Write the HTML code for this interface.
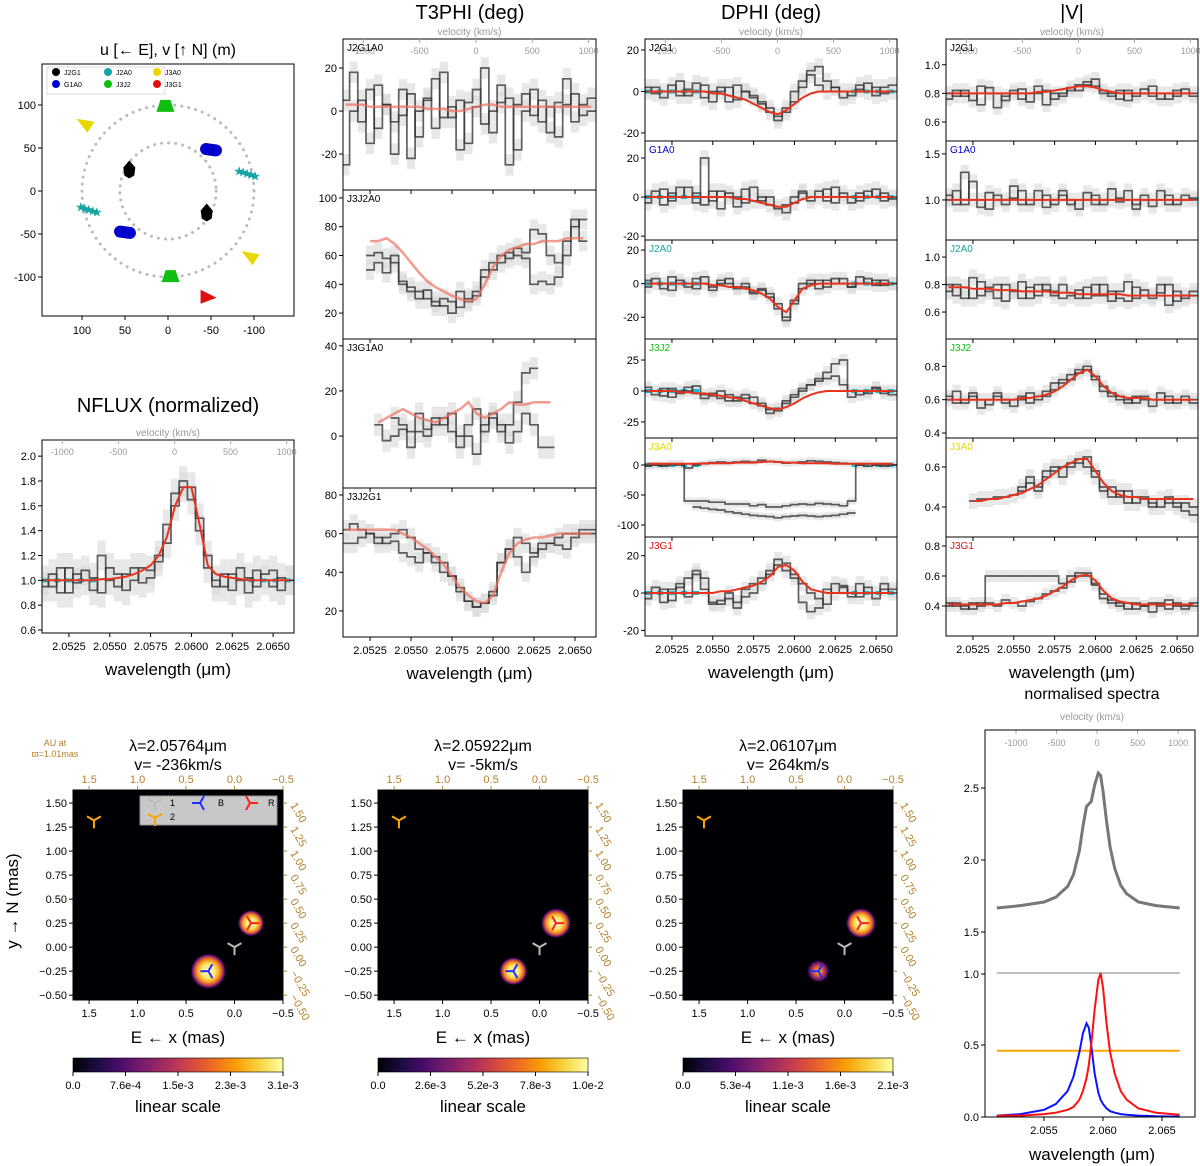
<!DOCTYPE html>
<html><head><meta charset="utf-8">
<style>
html,body{margin:0;padding:0;background:#fff;}
svg{display:block;font-family:"Liberation Sans","DejaVu Sans",sans-serif;}
</style></head>
<body>
<svg id="fig" width="1200" height="1166" viewBox="0 0 1200 1166" xmlns="http://www.w3.org/2000/svg">
<defs>
<radialGradient id="blob">
<stop offset="0" stop-color="#fffde0"/><stop offset="0.4" stop-color="#fce36a"/><stop offset="0.6" stop-color="#f8a020"/><stop offset="0.75" stop-color="#d2503a"/><stop offset="0.88" stop-color="#5a107a"/><stop offset="1" stop-color="#000004" stop-opacity="0"/>
</radialGradient>
<radialGradient id="blobDim">
<stop offset="0" stop-color="#f6c040"/><stop offset="0.35" stop-color="#e86a2a"/><stop offset="0.6" stop-color="#a42c60"/><stop offset="0.85" stop-color="#3a0c5a"/><stop offset="1" stop-color="#000004" stop-opacity="0"/>
</radialGradient>
<linearGradient id="inferno" x1="0" x2="1" y1="0" y2="0">
<stop offset="0" stop-color="#000004"/><stop offset="0.11" stop-color="#1b0c41"/><stop offset="0.22" stop-color="#4a0c6b"/><stop offset="0.33" stop-color="#781c6d"/><stop offset="0.44" stop-color="#a52c60"/><stop offset="0.55" stop-color="#cf4446"/><stop offset="0.66" stop-color="#ed6925"/><stop offset="0.77" stop-color="#fb9b06"/><stop offset="0.88" stop-color="#f7d13d"/><stop offset="1" stop-color="#fcffa4"/>
</linearGradient>
</defs>
</svg>
<script>
// ---------------- data ----------------
const wl=[2.0510,2.0515,2.0520,2.0525,2.0530,2.0535,2.0540,2.0545,2.0550,2.0555,2.0560,2.0565,2.0570,2.0575,2.0580,2.0585,2.0590,2.0595,2.0600,2.0605,2.0610,2.0615,2.0620,2.0625,2.0630,2.0635,2.0640,2.0645,2.0650,2.0655,2.0660];
const N=null;
// NFLUX
const fluxA=[1.0,0.95,1.1,0.9,1.05,1.0,0.92,1.2,1.0,0.95,1.05,1.1,0.98,1.02,1.15,1.3,1.6,1.8,1.75,1.5,1.1,1.0,0.95,1.05,1.0,0.9,1.08,1.0,0.95,1.02,1.0];
const fluxB=[0.95,1.05,0.9,1.1,0.98,1.08,1.02,0.9,1.1,1.05,0.92,1.0,1.1,1.08,1.2,1.45,1.7,1.75,1.65,1.4,1.2,0.95,1.05,0.92,1.1,1.02,0.95,1.05,1.08,0.92,1.0];
const fluxM=[1,1,1,1,1,1,1,1.01,1.01,1.02,1.03,1.05,1.08,1.12,1.2,1.35,1.6,1.75,1.75,1.45,1.12,1.05,1.03,1.02,1.01,1,1,1,1,1,1];
// T3PHI
const t1a=[5,18,-5,10,-8,3,-20,-2,8,-12,5,15,-3,2,-18,4,10,-6,0,12,-25,3,8,-2,5,-10,4,15,-5,3,6];
const t1b=[-25,0,5,-15,12,3,-5,10,-22,0,6,-8,18,-3,5,-15,2,20,-10,4,6,-18,0,10,-5,2,-12,3,8,-2,0];
const t1m=[3,3,3,2,2,2,2,2,2,2,1,1,1,0,0,1,2,3,3,2,2,2,2,2,2,2,2,2,2,2,2];
const t2a=[N,N,N,50,55,48,60,40,38,35,30,28,25,20,35,28,32,45,50,55,62,60,58,40,42,40,45,70,80,85,N];
const t2b=[N,N,N,60,62,58,55,42,35,30,36,25,30,28,24,30,35,50,55,60,58,65,62,78,75,60,55,60,85,70,N];
const t2m=[N,N,N,70,70,72,68,62,55,48,42,38,35,32,30,28,30,40,52,60,64,66,68,68,70,70,70,72,72,72,N];
const t3a=[N,N,N,N,5,-2,0,3,-5,2,0,5,8,2,-5,0,-8,5,10,2,5,15,28,30,N,N,N,N,N,N,N];
const t3b=[N,N,N,N,N,N,8,5,2,10,3,8,5,10,0,5,12,2,8,5,-3,2,10,5,-5,-5,N,N,N,N,N];
const t3m=[N,N,N,N,6,8,10,12,10,8,7,6,8,10,12,15,10,8,10,12,15,14,14,15,15,15,N,N,N,N,N];
const t4a=[55,55,58,60,58,55,56,50,48,45,50,45,40,38,32,25,22,24,30,45,52,58,55,50,52,55,54,52,58,60,60];
const t4b=[62,65,62,60,55,58,60,62,58,52,50,48,45,38,30,25,22,24,28,45,52,48,40,48,55,55,58,60,60,62,62];
const t4m=[62,62,62,62,62,62,62,60,58,55,52,48,44,38,32,28,25,24,28,40,50,55,57,58,58,59,60,60,60,60,60];
// DPHI
const d1a=[0,2,-3,0,5,-2,0,3,-5,0,2,-4,0,-3,-6,-10,-12,-8,0,5,10,12,5,2,0,-2,3,0,2,-1,0];
const d1b=[2,-1,0,3,-2,1,4,-3,0,2,-5,3,0,-2,-5,-8,-14,-10,-5,2,8,3,0,2,-3,0,1,4,-2,2,3];
const d1m=[0,0,0,0,0,0,0,0,-1,-1,-2,-3,-4,-6,-8,-10,-11,-9,-6,-3,-1,0,0,0,0,0,0,0,0,0,0];
const d2a=[0,3,-4,2,0,5,-3,20,-2,3,0,-5,4,-2,0,-4,-6,-8,-3,2,0,3,-2,5,0,-3,2,0,4,-2,0];
const d2b=[-3,0,4,-2,5,0,2,-4,3,-6,2,0,-3,5,-2,0,-5,-4,0,3,-2,0,4,-3,2,0,-2,3,0,2,-1];
const d2m=[0,0,0,0,0,0,0,0,0,0,0,-1,-1,-2,-3,-4,-5,-5,-3,-1,0,0,0,0,0,0,0,0,0,0,0];
const d3a=[2,0,-3,4,0,-2,3,0,-4,2,0,-3,-2,-5,-4,-8,-12,-20,-10,-3,0,2,-2,3,0,-2,4,0,2,-1,0];
const d3b=[-2,3,0,-4,2,0,-3,4,-2,0,3,-2,0,-6,-3,-6,-15,-22,-12,0,2,-3,2,0,3,-2,0,3,-1,2,0];
const d3m=[0,0,0,0,0,0,0,0,-1,-1,-2,-2,-3,-4,-6,-9,-14,-17,-10,-3,-1,0,0,0,0,0,0,0,0,0,0];
const d4a=[0,-3,2,-5,0,3,-2,-6,-4,0,-8,-5,-3,-10,-12,-15,-14,-10,-5,0,5,10,15,22,25,-5,0,-2,3,0,-3];
const d4b=[3,0,-4,2,-2,0,4,-3,-2,-6,-3,-8,-6,-5,-10,-18,-16,-8,-3,2,5,8,10,12,5,0,-3,0,2,-2,0];
const d4m=[0,0,0,0,-1,-1,-2,-2,-3,-4,-5,-6,-8,-10,-12,-14,-15,-13,-10,-6,-3,-1,0,0,0,0,0,0,0,0,0];
const d5a=[0,0,-2,0,2,-60,-60,-60,-62,-62,-65,-65,-65,-68,-66,-70,-70,-68,-66,-65,-66,-64,-65,-66,-68,-60,0,2,0,-2,0];
const d5b=[-2,0,0,2,0,-5,0,2,4,5,4,5,6,5,8,6,5,3,4,5,7,6,5,4,3,2,0,-2,0,0,0];
const d5c=[N,N,N,N,N,N,-70,-72,-74,-75,-78,-80,-82,-84,-85,-86,-88,-86,-85,-84,-85,-86,-85,-84,-82,-80,N,N,N,N,N];
const d5m=[2,2,2,2,2,2,2,3,3,3,3,4,4,4,5,6,5,4,4,3,3,3,3,2,2,2,2,2,2,2,2];
const d6a=[0,3,-5,2,5,-2,10,8,-5,-6,-3,-8,-2,0,5,10,15,12,8,-5,-10,-8,2,0,3,-2,5,0,-3,2,0];
const d6b=[-3,0,2,-4,3,8,12,2,-6,-4,0,-5,2,5,8,12,18,16,10,5,0,-3,-6,5,4,0,-2,3,0,5,2];
const d6m=[0,0,0,0,0,0,0,0,0,1,1,2,3,4,6,9,14,15,12,6,2,1,0,0,0,0,0,0,0,0,0];
// |V|
const v1a=[0.8,0.78,0.82,0.75,0.85,0.8,0.7,0.78,0.82,0.76,0.8,0.85,0.72,0.8,0.78,0.82,0.86,0.88,0.85,0.8,0.78,0.82,0.75,0.8,0.83,0.78,0.8,0.76,0.82,0.8,0.78];
const v1b=[0.76,0.82,0.78,0.8,0.72,0.84,0.8,0.75,0.8,0.83,0.74,0.8,0.82,0.76,0.8,0.84,0.82,0.86,0.9,0.82,0.8,0.76,0.82,0.78,0.8,0.85,0.76,0.8,0.78,0.83,0.8];
const v1m=[0.8,0.8,0.8,0.8,0.8,0.8,0.8,0.8,0.8,0.8,0.8,0.81,0.81,0.82,0.83,0.84,0.85,0.85,0.84,0.82,0.81,0.8,0.8,0.8,0.8,0.8,0.8,0.8,0.8,0.8,0.8];
const v2a=[1.0,1.1,0.95,1.2,1.0,0.9,1.05,1.0,1.15,0.95,1.0,1.1,0.92,1.0,1.05,0.95,1.0,1.08,0.95,1.0,1.12,0.98,1.0,0.9,1.05,1.0,1.1,0.95,1.0,1.05,1.0];
const v2b=[1.05,0.95,1.3,1.0,0.92,1.08,1.0,0.95,1.02,1.1,0.95,1.0,1.05,0.95,1.1,1.0,0.9,1.0,1.05,0.95,1.0,1.02,1.1,0.95,1.0,0.93,1.0,1.05,0.95,1.0,1.02];
const v2m=[1,1,1,1,1,1,1,1,1,1,1,1,1,1,1,1,1,1,1,1,1,1,1,1,1,1,1,1,1,1,1];
const v3a=[0.75,0.8,0.7,0.85,0.72,0.78,0.8,0.68,0.75,0.82,0.7,0.8,0.76,0.72,0.8,0.74,0.7,0.78,0.72,0.8,0.68,0.75,0.82,0.7,0.76,0.72,0.8,0.65,0.75,0.7,0.72];
const v3b=[0.8,0.72,0.78,0.7,0.82,0.75,0.7,0.8,0.76,0.7,0.78,0.72,0.8,0.75,0.7,0.72,0.76,0.7,0.8,0.72,0.75,0.7,0.68,0.78,0.72,0.7,0.74,0.8,0.68,0.72,0.75];
const v3m=[0.78,0.78,0.78,0.77,0.77,0.77,0.76,0.76,0.76,0.75,0.75,0.75,0.75,0.74,0.74,0.74,0.73,0.73,0.73,0.73,0.73,0.73,0.72,0.72,0.72,0.72,0.72,0.72,0.72,0.72,0.72];
const v4a=[0.6,0.65,0.58,0.62,0.55,0.6,0.64,0.58,0.6,0.62,0.58,0.62,0.65,0.7,0.72,0.75,0.78,0.8,0.72,0.65,0.62,0.6,0.58,0.62,0.6,0.56,0.6,0.62,0.58,0.6,0.6];
const v4b=[0.62,0.58,0.6,0.64,0.6,0.57,0.62,0.6,0.56,0.6,0.64,0.6,0.62,0.66,0.7,0.72,0.76,0.78,0.74,0.68,0.64,0.62,0.6,0.58,0.62,0.6,0.64,0.58,0.6,0.62,0.58];
const v4m=[0.6,0.6,0.6,0.6,0.6,0.6,0.6,0.6,0.6,0.61,0.61,0.62,0.63,0.65,0.68,0.72,0.76,0.78,0.74,0.68,0.64,0.62,0.61,0.61,0.61,0.6,0.6,0.6,0.6,0.6,0.6];
const v5a=[N,N,N,0.43,0.44,0.44,0.45,0.45,0.46,0.5,0.55,0.5,0.58,0.6,0.55,0.6,0.62,0.65,0.58,0.5,0.45,0.48,0.42,0.45,0.44,0.42,0.4,0.45,0.42,0.38,0.36];
const v5b=[N,N,N,N,N,N,N,N,N,0.48,0.52,0.48,0.55,0.58,0.6,0.62,0.64,0.6,0.55,0.48,0.5,0.45,0.48,0.42,0.45,0.4,0.44,0.42,0.4,0.42,0.4];
const v5m=[N,N,N,0.43,0.43,0.44,0.44,0.45,0.46,0.47,0.49,0.51,0.54,0.57,0.6,0.62,0.64,0.64,0.58,0.52,0.48,0.46,0.45,0.45,0.44,0.44,0.44,0.44,0.44,0.44,0.44];
const v6a=[0.4,0.42,0.4,0.38,0.42,0.6,0.6,0.6,0.6,0.6,0.6,0.6,0.6,0.6,0.55,0.6,0.62,0.62,0.55,0.45,0.42,0.4,0.42,0.38,0.4,0.42,0.4,0.38,0.42,0.4,0.4];
const v6b=[0.42,0.4,0.38,0.42,0.4,0.42,0.4,0.44,0.42,0.4,0.43,0.45,0.48,0.5,0.52,0.56,0.6,0.6,0.54,0.48,0.44,0.42,0.38,0.42,0.4,0.36,0.42,0.44,0.4,0.38,0.42];
const v6m=[0.41,0.41,0.41,0.41,0.41,0.41,0.41,0.42,0.42,0.43,0.44,0.45,0.47,0.5,0.53,0.57,0.6,0.61,0.57,0.5,0.45,0.43,0.42,0.41,0.41,0.41,0.41,0.41,0.41,0.41,0.41];
// uv coverage (metres; u positive towards East = left)
const uvJ2G1=[[45,25],[-45,-25]];
const uvG1A0=[[-50,48],[50,-48]];
const uvJ2A0=[[-92,21],[92,-21]];
const uvJ3J2=[[3,99],[-3,-99]];
const uvJ3A0=[[96,77],[-96,-77]];
const uvJ3G1=[[-46,-123]];
// spectra
const specWl=[2.0510,2.0530,2.0550,2.0560,2.0570,2.0575,2.0580,2.0583,2.0586,2.0588,2.0590,2.0593,2.0596,2.0598,2.0600,2.0603,2.0606,2.0610,2.0615,2.0620,2.0630,2.0645,2.0665];
const specFlux=[1.47,1.49,1.52,1.56,1.65,1.75,1.95,2.15,2.32,2.34,2.36,2.5,2.6,2.58,2.45,2.2,1.98,1.8,1.66,1.59,1.52,1.49,1.47];
const specBlue=[0.01,0.02,0.05,0.09,0.18,0.28,0.45,0.58,0.65,0.62,0.5,0.3,0.17,0.12,0.09,0.06,0.04,0.03,0.02,0.015,0.01,0.005,0.003];
const specRed=[0.01,0.01,0.02,0.03,0.05,0.07,0.12,0.18,0.27,0.36,0.5,0.75,0.95,1.0,0.9,0.65,0.45,0.3,0.18,0.12,0.06,0.03,0.015];
const specStar1=[1,1];
const specStar2=[0.46,0.46];
// image maps
const imgTitles=[["2.05764","-236"],["2.05922","-5"],["2.06107","264"]];
const blobRed=[[-0.17,0.25,0.14],[-0.17,0.25,0.16],[-0.17,0.25,0.16]];
const blobBlue=[[0.27,-0.25,0.19],[0.27,-0.25,0.15],[0.27,-0.25,0.12]];
const cbTicks=[["0.0","7.6e-4","1.5e-3","2.3e-3","3.1e-3"],["0.0","2.6e-3","5.2e-3","7.8e-3","1.0e-2"],["0.0","5.3e-4","1.1e-3","1.6e-3","2.1e-3"]];

// ---------------- helpers ----------------
const NS='http://www.w3.org/2000/svg';
const svg=document.getElementById('fig');
function mk(tag,attrs,parent,name,inter){
  const el=document.createElementNS(NS,tag);
  for(const k in attrs) el.setAttribute(k,attrs[k]);
  
  
  (parent||svg).appendChild(el);
  return el;
}
function txt(x,y,s,size,parent,name,opts){
  opts=opts||{};
  const a={x:x,y:y,'font-size':size,fill:opts.fill||'#000','text-anchor':opts.anchor||'middle'};
  if(opts.transform) a.transform=opts.transform;
  if(opts.style) a['font-style']=opts.style;
  const t=mk('text',a,parent,name);
  t.textContent=s;
  return t;
}
function lin(d0,d1,r0,r1){return v=>r0+(v-d0)/(d1-d0)*(r1-r0);}
const WLMIN=2.05085, WLMAX=2.06628, LAM0=2.05896, CKMS=299792;
const wlTicks=[2.0525,2.0550,2.0575,2.0600,2.0625,2.0650];
const velTicks=[-1000,-500,0,500,1000];
let clipId=0;

function panel(c){
  const g=mk('g',{},svg,c.name);
  const X=lin(WLMIN,WLMAX,c.x0,c.x1), Y=lin(c.ymin,c.ymax,c.y1,c.y0);
  const cid='clip'+(clipId++);
  const cp=mk('clipPath',{id:cid},g,'clip');
  mk('rect',{x:c.x0,y:c.y0,width:c.x1-c.x0,height:c.y1-c.y0},cp,'clip-rect');
  const inner=mk('g',{'clip-path':'url(#'+cid+')'},g,'plot-area');
  const err=c.err;
  c.series.forEach((s,si)=>{
    s.forEach((v,i)=>{
      if(v===null) return;
      mk('rect',{x:X(wl[i]-0.00025),y:Y(v+err),width:X(wl[i]+0.00025)-X(wl[i]-0.00025),height:Y(v-err)-Y(v+err),fill:'#d9d9d9','fill-opacity':0.6},inner,'error-band');
    });
  });
  if(c.cyan!==undefined){
    [[WLMIN,2.0545],[2.0635,WLMAX]].forEach(r=>{
      mk('line',{x1:X(r[0]),x2:X(r[1]),y1:Y(c.cyan),y2:Y(c.cyan),stroke:'#17becf','stroke-width':4,'stroke-dasharray':'6,6'},inner,'continuum-marker');
    });
  }
  c.series.forEach((s,si)=>{
    let d='',pen=false;
    s.forEach((v,i)=>{
      if(v===null){pen=false;return;}
      const xa=X(wl[i]-0.00025),xb=X(wl[i]+0.00025),y=Y(v);
      d+=(pen?'L':'M')+xa.toFixed(1)+','+y.toFixed(1)+'L'+xb.toFixed(1)+','+y.toFixed(1);
      pen=true;
    });
    mk('path',{d:d,fill:'none',stroke:'#333','stroke-opacity':0.78,'stroke-width':1.7},inner,'data-series-'+(si+1));
  });
  if(c.model){
    let d='',pen=false;
    c.model.forEach((v,i)=>{
      if(v===null){pen=false;return;}
      d+=(pen?'L':'M')+X(wl[i]).toFixed(1)+','+Y(v).toFixed(1);pen=true;
    });
    mk('path',{d:d,fill:'none',stroke:c.modelColor||'#e8321e','stroke-opacity':c.modelOpacity||1,'stroke-width':c.modelWidth||2},inner,'model-curve');
  }
  mk('rect',{x:c.x0,y:c.y0,width:c.x1-c.x0,height:c.y1-c.y0,fill:'none',stroke:'#000','stroke-width':1},g,'panel-frame');
  const dec=c.dec||0;
  c.yticks.forEach(t=>{
    const y=Y(t);
    mk('line',{x1:c.x0-4,x2:c.x0,y1:y,y2:y,stroke:'#000'},g,'y-tick');
    txt(c.x0-6,y+4,t.toFixed(dec),11,g,'y-tick-label',{anchor:'end'});
  });
  wlTicks.forEach(t=>{
    const x=X(t);
    mk('line',{x1:x,x2:x,y1:c.y1,y2:c.y1+4,stroke:'#000'},g,'x-tick');
    if(c.xlabels) txt(x,c.y1+17,t.toFixed(4),11,g,'x-tick-label');
  });
  if(c.xlabels) txt((c.x0+c.x1)/2,c.y1+42,'wavelength (μm)',17,g,'x-axis-title');
  if(c.vel){
    velTicks.forEach(v=>{
      const x=X(LAM0*(1+v/CKMS));
      mk('line',{x1:x,x2:x,y1:c.y0,y2:c.y0+4,stroke:'#aaa'},g,'velocity-tick');
      txt(x,c.y0+15,String(v),9,g,'velocity-tick-label',{fill:'#999'});
    });
    txt((c.x0+c.x1)/2,c.y0-4,'velocity (km/s)',10,g,'velocity-axis-title',{fill:'#999'});
  }
  if(c.label) txt(c.x0+4,c.y0+12,c.label,10,g,'baseline-label',{anchor:'start',fill:c.labelColor||'#000'});
  return g;
}

// ---------------- UV plot ----------------
(function(){
  const g=mk('g',{},svg,'uv-plot');
  txt(168,55,'u [← E], v [↑ N] (m)',16,g,'uv-title');
  const x0=42,x1=294,y0=64,y1=316,cx=168,cy=191,s=0.86;
  const U=u=>cx-u*s, V=v=>cy-v*s;
  mk('circle',{cx:cx,cy:cy,r:100*s,fill:'none',stroke:'#bbb','stroke-width':3,'stroke-dasharray':'0.1,7','stroke-linecap':'round'},g,'outer-ring');
  mk('circle',{cx:cx,cy:cy,r:56*s,fill:'none',stroke:'#bbb','stroke-width':3,'stroke-dasharray':'0.1,7','stroke-linecap':'round'},g,'inner-ring');
  uvJ2G1.forEach(p=>{mk('polygon',{points:[[0,-9],[6,-2],[5,6],[0,9],[-5,6],[-6,-2]].map(q=>(U(p[0])+q[0])+','+(V(p[1])+q[1])).join(' '),fill:'#000'},g,'uv-point-j2g1');});
  uvG1A0.forEach(p=>{mk('rect',{x:U(p[0])-11,y:V(p[1])-6,width:22,height:12,rx:6,fill:'#0000cc',transform:'rotate(8 '+U(p[0])+' '+V(p[1])+')'},g,'uv-point-g1a0');});
  uvJ2A0.forEach(p=>{for(let k=-2;k<=2;k++){txt(U(p[0])+k*4,V(p[1])+k*1.2+5,'★',13,g,'uv-point-j2a0',{fill:'#17a5a5'});}});
  uvJ3J2.forEach(p=>{mk('polygon',{points:(U(p[0])-9)+','+(V(p[1])+6)+' '+(U(p[0])+9)+','+(V(p[1])+6)+' '+(U(p[0])+5)+','+(V(p[1])-6)+' '+(U(p[0])-5)+','+(V(p[1])-6),fill:'#10c010'},g,'uv-point-j3j2');});
  uvJ3A0.forEach(p=>{mk('polygon',{points:(U(p[0])-9)+','+(V(p[1])-6)+' '+(U(p[0])+9)+','+(V(p[1])-3)+' '+(U(p[0])+2)+','+(V(p[1])+8),fill:'#e8d800'},g,'uv-point-j3a0');});
  uvJ3G1.forEach(p=>{mk('polygon',{points:(U(p[0])-7)+','+(V(p[1])-7)+' '+(U(p[0])+9)+','+(V(p[1])+1)+' '+(U(p[0])-7)+','+(V(p[1])+7),fill:'#dd1010'},g,'uv-point-j3g1');});
  mk('rect',{x:x0,y:y0,width:x1-x0,height:y1-y0,fill:'none',stroke:'#000'},g,'uv-frame');
  [100,50,0,-50,-100].forEach(t=>{
    mk('line',{x1:U(t),x2:U(t),y1:y1,y2:y1+4,stroke:'#000'},g,'uv-x-tick');
    txt(U(t),y1+18,String(t),11,g,'uv-x-tick-label');
    mk('line',{x1:x0-4,x2:x0,y1:V(t),y2:V(t),stroke:'#000'},g,'uv-y-tick');
    txt(x0-6,V(t)+4,String(t),11,g,'uv-y-tick-label',{anchor:'end'});
  });
  const lg=mk('g',{},g,'uv-legend');
  mk('rect',{x:47,y:67,width:118,height:27,fill:'#fff',stroke:'#ddd'},lg,'uv-legend-box');
  const ents=[['J2G1','#000',56,75],['G1A0','#0000cc',56,87],['J2A0','#17a5a5',108,75],['J3J2','#10c010',108,87],['J3A0','#e8d800',157,75],['J3G1','#dd1010',157,87]];
  ents.forEach(e=>{mk('circle',{cx:e[2],cy:e[3]-3,r:4,fill:e[1]},lg,'uv-legend-marker');txt(e[2]+8,e[3],e[0],7,lg,'uv-legend-entry',{anchor:'start'});});
})();

// ---------------- NFLUX ----------------
txt(168,412,'NFLUX (normalized)',20,svg,'nflux-title');
panel({name:'nflux-panel',x0:42,x1:294,y0:440,y1:633,ymin:0.576,ymax:2.13,yticks:[0.6,0.8,1.0,1.2,1.4,1.6,1.8,2.0],dec:1,series:[fluxA,fluxB],model:fluxM,err:0.12,cyan:1.0,xlabels:true,vel:true});

// ---------------- T3PHI ----------------
txt(470,19,'T3PHI (deg)',20,svg,'t3phi-title');
const T3C={modelColor:'#f07060',modelOpacity:0.7,modelWidth:2.5};
panel(Object.assign({name:'t3phi-j2g1a0',x0:343,x1:596,y0:39,y1:190,ymin:-36.7,ymax:33.5,yticks:[-20,0,20],series:[t1a,t1b],model:t1m,err:5,label:'J2G1A0',vel:true},T3C));
panel(Object.assign({name:'t3phi-j3j2a0',x0:343,x1:596,y0:190,y1:339,ymin:2,ymax:105.5,yticks:[20,40,60,80,100],series:[t2a,t2b],model:t2m,err:7,label:'J3J2A0'},T3C));
panel(Object.assign({name:'t3phi-j3g1a0',x0:343,x1:596,y0:339,y1:488,ymin:-23,ymax:43,yticks:[0,20,40],series:[t3a,t3b],model:t3m,err:5,label:'J3G1A0'},T3C));
panel(Object.assign({name:'t3phi-j3j2g1',x0:343,x1:596,y0:488,y1:637,ymin:6.5,ymax:83.6,yticks:[20,40,60,80],series:[t4a,t4b],model:t4m,err:5,label:'J3J2G1',xlabels:true},T3C));

// ---------------- DPHI ----------------
txt(771,19,'DPHI (deg)',20,svg,'dphi-title');
panel({name:'dphi-j2g1',x0:645,x1:897,y0:39,y1:141,ymin:-23.9,ymax:25.3,yticks:[-20,0,20],series:[d1a,d1b],model:d1m,err:4,cyan:0,label:'J2G1',vel:true});
panel({name:'dphi-g1a0',x0:645,x1:897,y0:141,y1:240,ymin:-22,ymax:28.7,yticks:[-20,0,20],series:[d2a,d2b],model:d2m,err:4,cyan:0,label:'G1A0',labelColor:'#0000cc'});
panel({name:'dphi-j2a0',x0:645,x1:897,y0:240,y1:339,ymin:-33,ymax:26,yticks:[-20,0,20],series:[d3a,d3b],model:d3m,err:4,cyan:0,label:'J2A0',labelColor:'#17a5a5'});
panel({name:'dphi-j3j2',x0:645,x1:897,y0:339,y1:438,ymin:-38,ymax:42,yticks:[-25,0,25],series:[d4a,d4b],model:d4m,err:5,cyan:0,label:'J3J2',labelColor:'#10c010'});
panel({name:'dphi-j3a0',x0:645,x1:897,y0:438,y1:537,ymin:-120,ymax:45,yticks:[-100,-50,0],series:[d5a,d5b,d5c],model:d5m,err:6,cyan:0,label:'J3A0',labelColor:'#e8d800'});
panel({name:'dphi-j3g1',x0:645,x1:897,y0:537,y1:636,ymin:-23,ymax:30,yticks:[-20,0,20],series:[d6a,d6b],model:d6m,err:4,cyan:0,label:'J3G1',labelColor:'#dd1010',xlabels:true});

// ---------------- |V| ----------------
txt(1072,19,'|V|',20,svg,'visamp-title');
panel({name:'vis-j2g1',x0:946,x1:1198,y0:39,y1:141,ymin:0.467,ymax:1.18,yticks:[0.6,0.8,1.0],dec:1,series:[v1a,v1b],model:v1m,err:0.05,label:'J2G1',vel:true});
panel({name:'vis-g1a0',x0:946,x1:1198,y0:141,y1:240,ymin:0.565,ymax:1.64,yticks:[1.0,1.5],dec:1,series:[v2a,v2b],model:v2m,err:0.08,label:'G1A0',labelColor:'#0000cc'});
panel({name:'vis-j2a0',x0:946,x1:1198,y0:240,y1:339,ymin:0.404,ymax:1.124,yticks:[0.6,0.8,1.0],dec:1,series:[v3a,v3b],model:v3m,err:0.06,label:'J2A0',labelColor:'#17a5a5'});
panel({name:'vis-j3j2',x0:946,x1:1198,y0:339,y1:438,ymin:0.37,ymax:0.964,yticks:[0.4,0.6,0.8],dec:1,series:[v4a,v4b],model:v4m,err:0.04,label:'J3J2',labelColor:'#10c010'});
panel({name:'vis-j3a0',x0:946,x1:1198,y0:438,y1:537,ymin:0.25,ymax:0.745,yticks:[0.4,0.6],dec:1,series:[v5a,v5b],model:v5m,err:0.04,label:'J3A0',labelColor:'#e8d800'});
panel({name:'vis-j3g1',x0:946,x1:1198,y0:537,y1:636,ymin:0.2,ymax:0.86,yticks:[0.4,0.6,0.8],dec:1,series:[v6a,v6b],model:v6m,err:0.04,label:'J3G1',labelColor:'#dd1010',xlabels:true});

// ---------------- image maps ----------------
const BROWN='#b8802a';
function tri(g,x,y,col,rot,name){
  [0,120,240].forEach(a=>{
    const r=(a+rot)*Math.PI/180;
    mk('line',{x1:x,y1:y,x2:x+8*Math.sin(r),y2:y-8*Math.cos(r),stroke:col,'stroke-width':2},g,name);
  });
}
imgTitles.forEach((tt,k)=>{
  const ox=73+k*305, x1=ox+210, y0=790, y1=1000;
  const g=mk('g',{},svg,'image-map-'+(k+1));
  const X=lin(1.666,-0.5,ox,x1), Y=lin(1.636,-0.55,y0,y1);
  txt(ox+105,751,'λ='+tt[0]+'μm',16,g,'map-wavelength-title');
  txt(ox+105,770,'v= '+tt[1]+'km/s',16,g,'map-velocity-title');
  mk('rect',{x:ox,y:y0,width:210,height:210,fill:'#000004'},g,'map-background');
  const cid='mclip'+k;
  const cp=mk('clipPath',{id:cid},g,'clip');
  mk('rect',{x:ox,y:y0,width:210,height:210},cp,'clip-rect');
  const inner=mk('g',{'clip-path':'url(#'+cid+')'},g,'map-area');
  const br=blobRed[k], bb=blobBlue[k];
  mk('circle',{cx:X(br[0]),cy:Y(br[1]),r:br[2]*96,fill:'url(#blob)'},inner,'red-component-emission');
  mk('circle',{cx:X(bb[0]),cy:Y(bb[1]),r:bb[2]*96,fill:k==2?'url(#blobDim)':'url(#blob)'},inner,'blue-component-emission');
  tri(inner,X(br[0]),Y(br[1]),'#ff2020',90,'marker-r');
  tri(inner,X(bb[0]),Y(bb[1]),'#2030ff',-90,'marker-b');
  tri(inner,X(0),Y(0),'#bbbbbb',180,'marker-star1');
  tri(inner,X(1.45),Y(1.32),'#ffa500',180,'marker-star2');
  mk('rect',{x:ox,y:y0,width:210,height:210,fill:'none',stroke:'#000'},g,'map-frame');
  [1.5,1.0,0.5,0.0,-0.5].forEach(t=>{
    mk('line',{x1:X(t),x2:X(t),y1:y1,y2:y1+4,stroke:'#000'},g,'map-x-tick');
    txt(X(t),y1+17,t===-0.5?'−0.5':t.toFixed(1),11,g,'map-x-tick-label');
    mk('line',{x1:X(t),x2:X(t),y1:y0,y2:y0-4,stroke:BROWN},g,'map-au-x-tick');
    txt(X(t),y0-7,t===-0.5?'−0.5':t.toFixed(1),11,g,'map-au-x-tick-label',{fill:BROWN});
  });
  [1.5,1.25,1.0,0.75,0.5,0.25,0.0,-0.25,-0.5].forEach(t=>{
    mk('line',{x1:ox-4,x2:ox,y1:Y(t),y2:Y(t),stroke:'#000'},g,'map-y-tick');
    txt(ox-6,Y(t)+4,(t<0?'−':'')+Math.abs(t).toFixed(2),11,g,'map-y-tick-label',{anchor:'end'});
    mk('line',{x1:x1,x2:x1+4,y1:Y(t),y2:Y(t),stroke:BROWN},g,'map-au-y-tick');
    txt(x1+7,Y(t)+2,(t<0?'−':'')+Math.abs(t).toFixed(2),11,g,'map-au-y-tick-label',{anchor:'start',fill:BROWN,transform:'rotate(60 '+(x1+7)+' '+(Y(t)+2)+')'});
  });
  txt(ox+105,1043,'E ← x (mas)',17,g,'map-x-axis-title');
  mk('rect',{x:ox,y:1058,width:210,height:14,fill:'url(#inferno)',stroke:'#000','stroke-width':0.6},g,'colorbar');
  cbTicks[k].forEach((s,i)=>{
    const x=ox+i*52.5;
    mk('line',{x1:x,x2:x,y1:1072,y2:1076,stroke:'#000'},g,'colorbar-tick');
    txt(x,1089,s,11,g,'colorbar-tick-label');
  });
  txt(ox+105,1112,'linear scale',17,g,'colorbar-title');
  if(k===0){
    txt(12,895,'y → N (mas)',17,g,'map-y-axis-title',{transform:'rotate(-90 18 895)'});
    txt(55,746,'AU at',9,g,'au-label',{fill:BROWN});
    txt(55,757,'ϖ=1.01mas',9,g,'au-parallax-label',{fill:BROWN});
    const lg=mk('g',{},g,'map-legend');
    mk('rect',{x:140,y:796,width:137,height:29,fill:'#c8c8c8',stroke:'#999'},lg,'map-legend-box');
    tri(lg,155,803,'#bbbbbb',180,'legend-marker-1');txt(170,806,'1',9,lg,'legend-entry-1',{anchor:'start'});
    tri(lg,155,818,'#ffa500',180,'legend-marker-2');txt(170,820,'2',9,lg,'legend-entry-2',{anchor:'start'});
    tri(lg,200,803,'#2030ff',-90,'legend-marker-b');txt(218,806,'B',9,lg,'legend-entry-b',{anchor:'start'});
    tri(lg,250,803,'#ff2020',90,'legend-marker-r');txt(268,806,'R',9,lg,'legend-entry-r',{anchor:'start'});
  }
});

// ---------------- normalised spectra ----------------
(function(){
  const g=mk('g',{},svg,'spectra-panel');
  const x0=985,x1=1195,y0=730,y1=1117;
  const X=lin(2.050,2.0678,x0,x1);
  const Ylo=v=>1117-v*144;
  const Yhi=v=>908-(v-1.47)*119.5;
  txt(1092,699,'normalised spectra',16,g,'spectra-title');
  txt(1092,720,'velocity (km/s)',10,g,'spectra-velocity-title',{fill:'#999'});
  velTicks.forEach(v=>{
    const x=X(2.0595*(1+v/CKMS));
    mk('line',{x1:x,x2:x,y1:y0,y2:y0+4,stroke:'#aaa'},g,'spectra-velocity-tick');
    txt(x,y0+16,String(v),9,g,'spectra-velocity-tick-label',{fill:'#999'});
  });
  const path=(xs,ys,fy)=>xs.map((w,i)=>(i?'L':'M')+X(w).toFixed(1)+','+fy(ys[i]).toFixed(1)).join('');
  mk('path',{d:path(specWl,specFlux,Yhi),fill:'none',stroke:'#777','stroke-width':3},g,'total-flux-curve');
  mk('path',{d:path([2.0510,2.0665],specStar1,Ylo),fill:'none',stroke:'#c0c0c0','stroke-width':2},g,'star1-spectrum');
  mk('path',{d:path([2.0510,2.0665],specStar2,Ylo),fill:'none',stroke:'#ffa500','stroke-width':2},g,'star2-spectrum');
  mk('path',{d:path(specWl,specBlue,Ylo),fill:'none',stroke:'#0a14ff','stroke-width':2},g,'blue-component-spectrum');
  mk('path',{d:path(specWl,specRed,Ylo),fill:'none',stroke:'#ff1010','stroke-width':2},g,'red-component-spectrum');
  mk('rect',{x:x0,y:y0,width:x1-x0,height:y1-y0,fill:'none',stroke:'#000'},g,'spectra-frame');
  [[2.5,788],[2.0,860],[1.5,932],[1.0,974],[0.5,1045],[0.0,1117]].forEach(t=>{
    mk('line',{x1:x0-4,x2:x0,y1:t[1],y2:t[1],stroke:'#000'},g,'spectra-y-tick');
    txt(x0-6,t[1]+4,t[0].toFixed(1),11,g,'spectra-y-tick-label',{anchor:'end'});
  });
  [2.055,2.060,2.065].forEach(t=>{
    mk('line',{x1:X(t),x2:X(t),y1:y1,y2:y1+4,stroke:'#000'},g,'spectra-x-tick');
    txt(X(t),y1+17,t.toFixed(3),11,g,'spectra-x-tick-label');
  });
  txt(1092,1160,'wavelength (μm)',17,g,'spectra-x-axis-title');
})();
</script>
</body></html>
